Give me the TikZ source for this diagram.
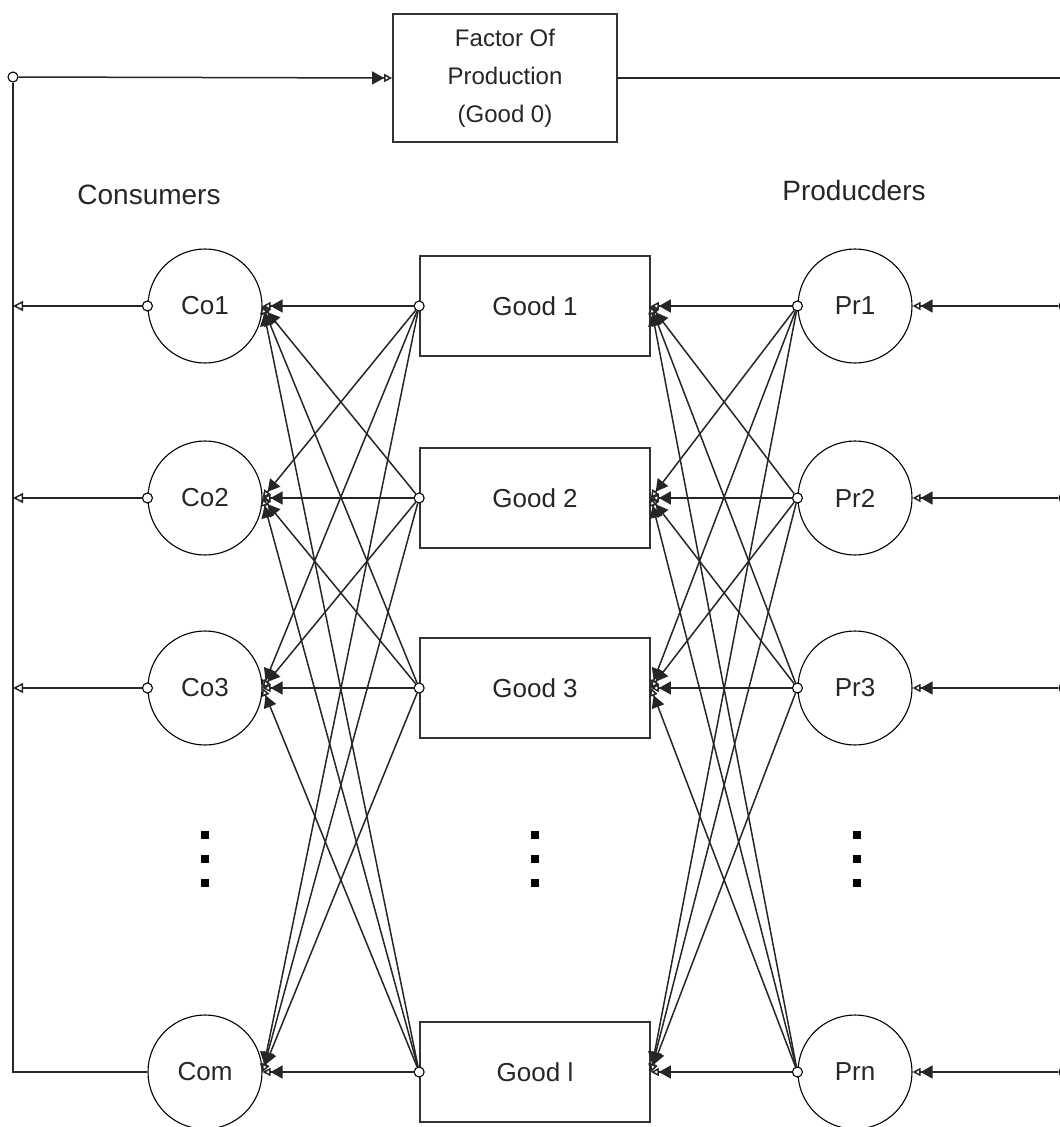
\documentclass[tikz,border=0pt]{standalone}
\usepackage{fontspec}
\setmainfont{Liberation Sans}
\usetikzlibrary{arrows.meta}

\begin{document}
\begin{tikzpicture}[x=1pt,y=-1pt,
  every node/.style={font=\fontsize{26}{38}\selectfont, text=black!85},
  agent/.style={draw, circle, minimum size=114pt, inner sep=0pt, line width=1.1pt},
  goodbox/.style={draw=black!80, rectangle, minimum width=230pt, minimum height=100pt, line width=1.7pt, align=center},
  heading/.style={font=\fontsize{28}{34}\selectfont},
  port/.style={draw, circle, fill=white, minimum size=10pt, inner sep=0pt, line width=1.1pt},
  wire/.style={line width=1.5pt, draw=black!85},
  flow/.style={wire, -{Triangle[length=12pt,width=13pt] Triangle[open,length=8pt,width=8pt,fill=white]}},
  outflow/.style={wire, -{Triangle[open,length=10pt,width=10pt,fill=white]}},
  ellip/.style={fill=black}
]
\useasboundingbox (0,0) rectangle (1060,1127);

% factor of production
\node[goodbox, minimum width=224pt, minimum height=128pt,
      font=\fontsize{24}{38}\selectfont] (f0) at (505,78)
  {Factor Of\\Production\\(Good 0)};

% column headings
\node[heading] (hcons) at (149,195) {Consumers};
\node[heading] (hprod) at (854,190) {Producders};

% consumers, goods, producers
\foreach \k/\y/\cl/\gl/\pl in {1/306/Co1/Good 1/Pr1, 2/498/Co2/Good 2/Pr2,
                                3/688/Co3/Good 3/Pr3, 4/1072/Com/Good l/Prn} {
  \node[agent] (c\k) at (205,\y) {\cl};
  \node[goodbox] (g\k) at (535,\y) {\gl};
  \node[agent] (p\k) at (855,\y) {\pl};
  \node[port] (gw\k) at (g\k.west) {};
  \node[port] (pw\k) at (p\k.west) {};
  \node[port] (rp\k) at (1064,\y) {};
}

% goods flow to every consumer, producers supply every good
\foreach \j in {1,...,4} {
  \foreach \i in {1,...,4} {
    \draw[flow] (gw\j) -- (c\i.east);
    \draw[flow] (pw\j) -- (g\i.east);
  }
  \draw[flow] (rp\j) -- (p\j.east);
}

% consumers return the factor of production
\coordinate (lbot) at (13,1072);
\node[port] (ltop) at (13,77) {};
\foreach \k/\y in {1/306, 2/498, 3/688} {
  \node[port] (cw\k) at (c\k.west) {};
  \coordinate (lw\k) at (13,\y);
  \draw[outflow] (cw\k) -- (lw\k);
}
\draw[wire] (c4.west) -- (lbot) -- (ltop);
\draw[flow] (ltop) -- (f0.west);
\coordinate (rtop) at (1066,78);
\draw[wire] (f0.east) -- (rtop);

% vertical ellipses
\foreach \x in {205,535,857} {
  \foreach \y in {835,859,883} {
    \fill[ellip] (\x-4,\y-4) rectangle (\x+4,\y+4);
  }
}
\end{tikzpicture}
\end{document}
